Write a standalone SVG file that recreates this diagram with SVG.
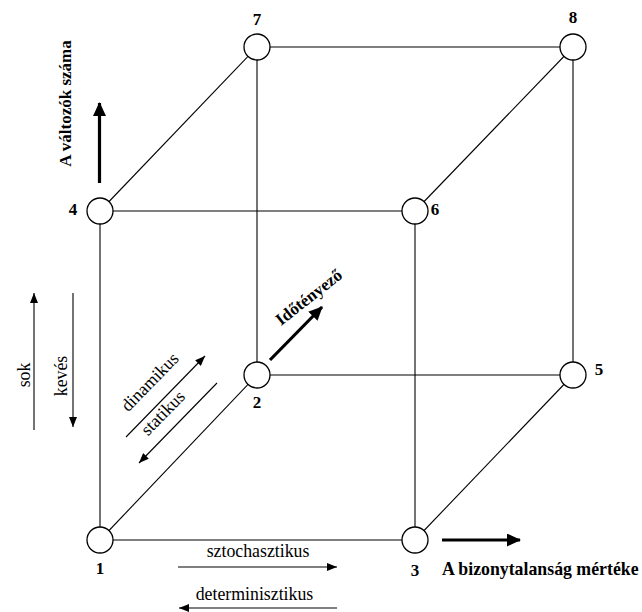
<svg xmlns="http://www.w3.org/2000/svg" width="642" height="612" viewBox="0 0 642 612">
  <style>
    .edge { stroke: #000; stroke-width: 1.1; fill: none; }
    .node circle { fill: #fff; stroke: #000; stroke-width: 1.3; }
    .num { font-family: "Liberation Serif", "Times New Roman", serif; font-weight: bold; font-size: 17px; text-anchor: middle; fill: #000; }
    .lbl { font-family: "Liberation Serif", "Times New Roman", serif; font-size: 17.8px; fill: #000; }
    .bold { font-weight: bold; font-size: 17px; }
    .thin { stroke: #000; stroke-width: 1.1; fill: none; }
    .thick { stroke: #000; stroke-width: 3.2; fill: none; }
  </style>
  <defs>
    <marker id="head" viewBox="0 0 10 8" refX="10" refY="4" markerWidth="10" markerHeight="8" markerUnits="userSpaceOnUse" orient="auto">
      <path d="M0,0 L10,4 L0,8 Z" fill="#000"/>
    </marker>
    <marker id="bighead" viewBox="0 0 14 13" refX="13" refY="6.5" markerWidth="14" markerHeight="13" markerUnits="userSpaceOnUse" orient="auto">
      <path d="M0,0 L14,6.5 L0,13 Z" fill="#000"/>
    </marker>
  </defs>

  <!-- cube edges -->
  <g id="connectors">
    <line class="edge" x1="100" y1="540" x2="415" y2="540"/>
    <line class="edge" x1="100" y1="540" x2="100" y2="211"/>
    <line class="edge" x1="415" y1="540" x2="415" y2="211"/>
    <line class="edge" x1="100" y1="211" x2="415" y2="211"/>
    <line class="edge" x1="257" y1="375" x2="573" y2="375"/>
    <line class="edge" x1="257" y1="375" x2="257" y2="47"/>
    <line class="edge" x1="573" y1="375" x2="573" y2="47"/>
    <line class="edge" x1="257" y1="47" x2="573" y2="47"/>
    <line class="edge" x1="100" y1="540" x2="257" y2="375"/>
    <line class="edge" x1="415" y1="540" x2="573" y2="375"/>
    <line class="edge" x1="100" y1="211" x2="257" y2="47"/>
    <line class="edge" x1="415" y1="211" x2="573" y2="47"/>
  </g>

  <!-- corner nodes -->
  <g id="n1" class="node"><circle cx="100" cy="540" r="13"/><text class="num" x="100" y="574">1</text></g>
  <g id="n2" class="node"><circle cx="257" cy="375" r="13"/><text class="num" x="257" y="408">2</text></g>
  <g id="n3" class="node"><circle cx="415" cy="540" r="13"/><text class="num" x="415" y="576">3</text></g>
  <g id="n4" class="node"><circle cx="100" cy="211" r="13"/><text class="num" x="73" y="215">4</text></g>
  <g id="n5" class="node"><circle cx="573" cy="375" r="13"/><text class="num" x="599" y="375">5</text></g>
  <g id="n6" class="node"><circle cx="415" cy="211" r="13"/><text class="num" x="435" y="215">6</text></g>
  <g id="n7" class="node"><circle cx="257" cy="47" r="13"/><text class="num" x="257" y="25">7</text></g>
  <g id="n8" class="node"><circle cx="573" cy="47" r="13"/><text class="num" x="573" y="23">8</text></g>

  <!-- axis: number of variables -->
  <g id="axis-variables">
    <line class="thick" x1="99.5" y1="183" x2="99.5" y2="103" marker-end="url(#bighead)"/>
    <text class="lbl bold" text-anchor="middle" transform="translate(71,103.5) rotate(-90)">A változók száma</text>
  </g>

  <!-- axis: uncertainty -->
  <g id="axis-uncertainty">
    <line class="thick" x1="442" y1="540" x2="520" y2="540" marker-end="url(#bighead)"/>
    <text class="lbl bold" x="442" y="575" style="font-size:17.8px">A bizonytalanság mértéke</text>
  </g>

  <!-- axis: time factor -->
  <g id="axis-time">
    <line class="thick" x1="270" y1="360" x2="322" y2="307" marker-end="url(#bighead)"/>
    <text class="lbl bold" transform="translate(281,326) rotate(-38)">Időtényező</text>
  </g>

  <!-- sok / kevés -->
  <g id="scale-many-few">
    <line class="thin" x1="34" y1="430" x2="34" y2="293" marker-end="url(#head)"/>
    <text class="lbl" text-anchor="middle" transform="translate(30,375) rotate(-90)">sok</text>
    <line class="thin" x1="73" y1="293" x2="73" y2="427" marker-end="url(#head)"/>
    <text class="lbl" text-anchor="middle" transform="translate(67,376) rotate(-90)">kevés</text>
  </g>

  <!-- dinamikus / statikus -->
  <g id="scale-dynamic-static">
    <line class="thin" x1="126" y1="437" x2="205" y2="356" marker-end="url(#head)"/>
    <text class="lbl" text-anchor="middle" transform="translate(154,386) rotate(-45.7)">dinamikus</text>
    <line class="thin" x1="217" y1="383" x2="139" y2="463" marker-end="url(#head)"/>
    <text class="lbl" text-anchor="middle" transform="translate(167,417) rotate(-45.7)">statikus</text>
  </g>

  <!-- sztochasztikus / determinisztikus -->
  <g id="scale-stochastic">
    <text class="lbl" text-anchor="middle" x="258" y="557">sztochasztikus</text>
    <line class="thin" x1="178" y1="567" x2="337" y2="567" marker-end="url(#head)"/>
    <text class="lbl" text-anchor="middle" x="254.5" y="600">determinisztikus</text>
    <line class="thin" x1="337" y1="608" x2="179" y2="608" marker-end="url(#head)"/>
  </g>
</svg>
